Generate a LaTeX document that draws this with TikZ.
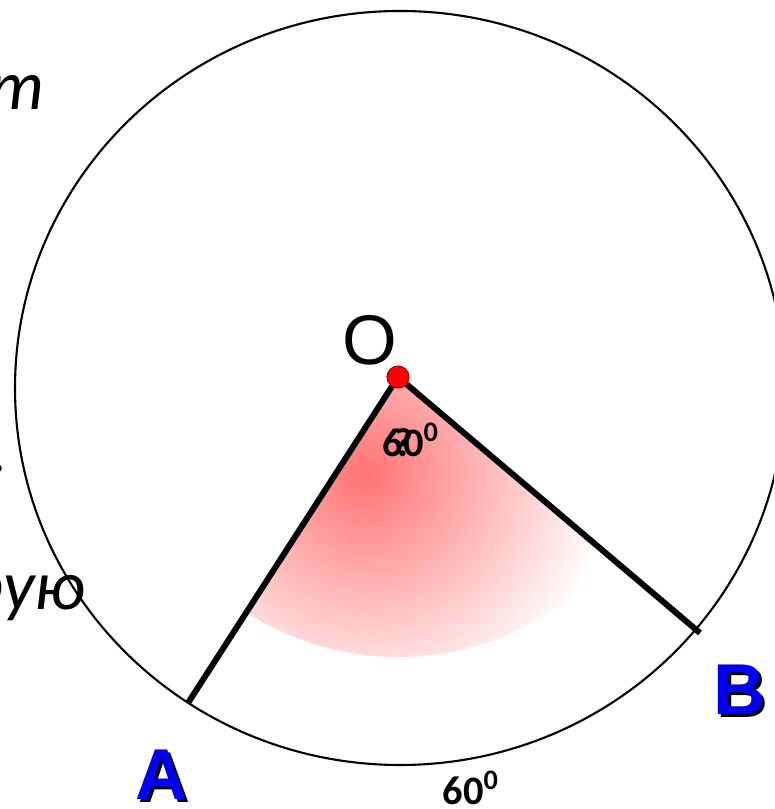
\documentclass[tikz,border=0pt]{standalone}
\usepackage{fontspec}
\setmainfont{Carlito}
\newfontfamily\arialfont{Liberation Sans}
\usepackage{xcolor}
\definecolor{letterblue}{rgb}{0.0,0.0,0.95}
\usetikzlibrary{positioning}

\begin{document}
\begin{tikzpicture}[
    radius line/.style={line width=1.7pt, line cap=butt},
    point label/.style={font=\arialfont\bfseries\fontsize{20.5}{22}\selectfont, inner sep=0pt},
    angle label/.style={font=\bfseries\fontsize{11.5}{13}\selectfont, inner sep=0pt},
    slide text/.style={font=\itshape\fontsize{20}{24}\selectfont, inner sep=0pt, anchor=base east}]
    \useasboundingbox (0,0) rectangle (7.74,8.09);
    \clip (0,0) rectangle (7.74,8.09);
    % pieces of the slide text, cut by the left edge
    \node[slide text] (txtone) at (0.46,6.99) {т};
    \node[slide text] (txttwo) at (0.09,3.36) {.};
    \node[slide text] (txtthree) at (0.86,1.99) {рую};
    % centre and ends of the two radii
    \coordinate (O) at (3.98,4.32);
    \coordinate (pA) at (1.88,1.06);
    \coordinate (pB) at (7.00,1.76);
    % red fading fill of the central angle
    \begin{scope}
      \clip (O) -- ++(237.2:2.8) arc (237.2:319.7:2.8) -- cycle;
      \shade[inner color=red!55, outer color=white] (3.65,3.35) circle (2.45);
    \end{scope}
    % the circle
    \draw[line width=0.6pt] (4.00,4.21) ellipse (3.85 and 3.77);
    % radii
    \draw[radius line] (O) -- (pA);
    \draw[radius line] (O) -- (pB);
    \fill[red, draw=red!70!black, line width=0.3pt] (O) circle (0.11);
    % labels
    \node[font=\arialfont\fontsize{20}{22}\selectfont, inner sep=0pt] (lblO) at (3.70,4.69) {O};
    \node[angle label, anchor=base] (lblq) at (4.04,3.52) {?};
    \node[angle label, anchor=base west] (lblang) at (3.82,3.52) {60\textsuperscript{0}};
    \node[angle label, anchor=base west] (lblarc) at (4.42,0.04) {60\textsuperscript{0}};
    \node[point label, text=black] at ([shift={(0.03,-0.03)}]1.62,0.34) {A};
    \node[point label, text=letterblue] (lblA) at (1.62,0.34) {A};
    \node[point label, text=black] at ([shift={(0.03,-0.03)}]7.39,1.19) {B};
    \node[point label, text=letterblue] (lblB) at (7.39,1.19) {B};
\end{tikzpicture}
\end{document}
